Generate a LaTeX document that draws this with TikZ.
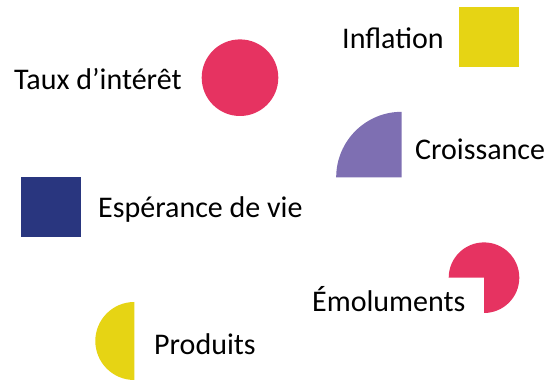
\documentclass[tikz,border=0pt]{standalone}
\usepackage{fontspec}
\setmainfont{Carlito}
\usepackage{tikz}
\definecolor{rosered}{HTML}{E63361}
\definecolor{mustard}{HTML}{E6D414}
\definecolor{lavender}{HTML}{7E6FB2}
\definecolor{navy}{HTML}{29367F}

\begin{document}
\begin{tikzpicture}[x=1pt, y=1pt,
  lbl/.style = {anchor = base west, inner sep = 0pt, font = \fontsize{30}{36}\selectfont}]
  \useasboundingbox (0, 0) rectangle (552, 380);
  \fill [rosered] (240, 302.3) circle (38.3pt);
  \fill [mustard] (459, 313.3) rectangle (519, 373.3);
  \fill [lavender] (401.7, 202.7) -- (336.2, 202.7) arc [start angle = 180, end angle = 90, radius = 65.5pt] -- cycle;
  \fill [navy] (21, 143.3) rectangle (81, 203.3);
  \fill [rosered] (484, 102.3) -- (484, 67) arc [start angle = -90, end angle = 180, radius = 35.3pt] -- cycle;
  \fill [mustard] (134.3, 39) -- (134.3, 78) arc [start angle = 90, end angle = 270, radius = 39pt] -- cycle;
  \node [lbl] (LA) at (14, 290.5) {Taux d’intérêt};
  \node [lbl] (LB) at (342, 331) {Inflation};
  \node [lbl] (LC) at (415, 220) {Croissance};
  \node [lbl] (LD) at (98, 162) {Espérance de vie};
  \node [lbl] (LE) at (312, 68) {Émoluments};
  \node [lbl] (LF) at (154, 25.5) {Produits};
\end{tikzpicture}
\end{document}
